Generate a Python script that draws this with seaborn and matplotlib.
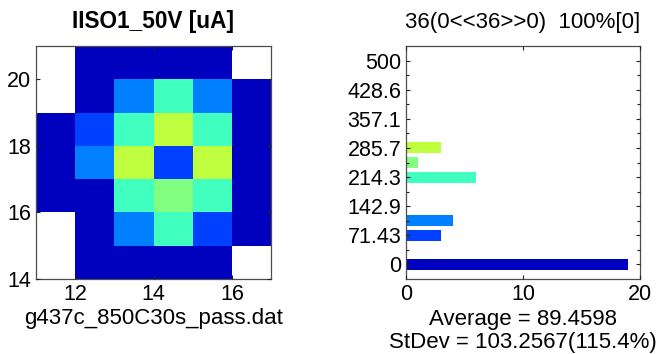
import numpy as np
import pandas as pd
import matplotlib
matplotlib.use("Agg")
import matplotlib.pyplot as plt
from matplotlib.colors import ListedColormap, BoundaryNorm
from matplotlib.ticker import FixedLocator
import seaborn as sns

# Die map: lower-left corner coordinates of each cell and measured current [uA]
col_x = [11, 12, 13, 14, 15, 16]
row_y = [20, 19, 18, 17, 16, 15, 14]
current = [
    [np.nan, 4, 6, 8, 5, np.nan],
    [np.nan, 11, 112, 221, 104, 7],
    [9, 78, 218, 291, 223, 10],
    [12, 109, 288, 74, 284, 8],
    [6, 13, 216, 252, 219, 9],
    [np.nan, 10, 103, 212, 69, 11],
    [np.nan, 5, 7, 9, 6, np.nan],
]

# Histogram range and labels
hist_max = 500.0
n_steps = 14
ytick_labels = ["0", "71.43", "142.9", "214.3", "285.7", "357.1", "428.6", "500"]
xtick_map = [12, 14, 16]
ytick_map = [14, 16, 18, 20]
xtick_hist = [0, 10, 20]

title_left = "IISO1_50V [uA]"
xlabel_left = "g437c_850C30s_pass.dat"
title_right = "36(0<<36>>0)  100%[0]"
stats_text = "Average = 89.4598\nStDev = 103.2567(115.4%)"

# 16-level jet palette
jet16 = [
    (0, 0, 0.75), (0, 0, 1), (0, 0.25, 1), (0, 0.5, 1), (0, 0.75, 1), (0, 1, 1),
    (0.25, 1, 0.75), (0.5, 1, 0.5), (0.75, 1, 0.25), (1, 1, 0), (1, 0.75, 0),
    (1, 0.5, 0), (1, 0.25, 0), (1, 0, 0), (0.75, 0, 0), (0.5, 0, 0),
]

plt.rcParams["font.family"] = ["Liberation Sans", "DejaVu Sans"]
FS = 15.5
FS_TXT = 16
EDGE = "#4d4d4d"

step = hist_max / n_steps
cmap = ListedColormap(jet16)
bounds = (np.arange(len(jet16) + 1) - 0.5) * step
norm = BoundaryNorm(bounds, cmap.N)

fig = plt.figure(figsize=(6.67, 3.54), dpi=100)
ax1 = fig.add_axes([36 / 667, 75 / 354, 235 / 667, 233 / 354])
ax2 = fig.add_axes([406 / 667, 75 / 354, 234 / 667, 233 / 354])

# ---- wafer map ----
df = pd.DataFrame(current, index=row_y, columns=col_x)
sns.heatmap(df, ax=ax1, cmap=cmap, norm=norm, cbar=False,
            xticklabels=False, yticklabels=False, linewidths=0)
ax1.set_xticks([t - col_x[0] for t in xtick_map])
ax1.set_xticklabels([str(t) for t in xtick_map])
ax1.set_yticks([row_y[0] + 1 - t for t in ytick_map])
ax1.set_yticklabels([str(t) for t in ytick_map], rotation=0)
ax1.set_xlabel(xlabel_left, fontsize=FS_TXT, labelpad=2)
ax1.set_ylabel("")
ax1.set_title(title_left, fontsize=FS + 0.8, fontweight="bold", pad=13)

# ---- histogram ----
vals = df.to_numpy().ravel()
vals = vals[~np.isnan(vals)]
edges = (np.arange(n_steps + 2) - 0.5) * step
counts, _ = np.histogram(vals, bins=edges)
centers = np.arange(n_steps + 1) * step
hdf = pd.DataFrame({"count": counts, "center": centers,
                    "bin": [str(i) for i in range(n_steps + 1)]})
pal = {str(i): jet16[i] for i in range(n_steps + 1)}
sns.barplot(data=hdf, x="count", y="center", hue="bin", palette=pal,
            orient="h", native_scale=True, dodge=False, width=0.75,
            saturation=1, errorbar=None, legend=False, ax=ax2, linewidth=0)
ax2.set_xlim(0, 20)
ax2.set_ylim(-step, hist_max + step)
ax2.set_yticks(np.arange(8) * 2 * step)
ax2.set_yticklabels(ytick_labels)
ax2.yaxis.set_minor_locator(FixedLocator((np.arange(7) * 2 + 1) * step))
ax2.set_xticks(xtick_hist)
ax2.set_xticklabels([str(t) for t in xtick_hist])
ax2.set_ylabel("")
ax2.set_xlabel(stats_text, fontsize=FS_TXT, labelpad=3, linespacing=1.15)
ax2.set_title(title_right, fontsize=FS_TXT, pad=13)

for ax in (ax1, ax2):
    for s in ax.spines.values():
        s.set_visible(True)
        s.set_color(EDGE)
        s.set_linewidth(0.9)
    ax.tick_params(which="both", direction="in", top=True, right=True,
                   color="#222222", width=0.8, labelsize=FS, pad=3.5)
    ax.tick_params(which="major", length=3)
    ax.tick_params(which="minor", length=2)
    ax.set_axisbelow(False)

fig.savefig("out.png", dpi=100, facecolor="white")
